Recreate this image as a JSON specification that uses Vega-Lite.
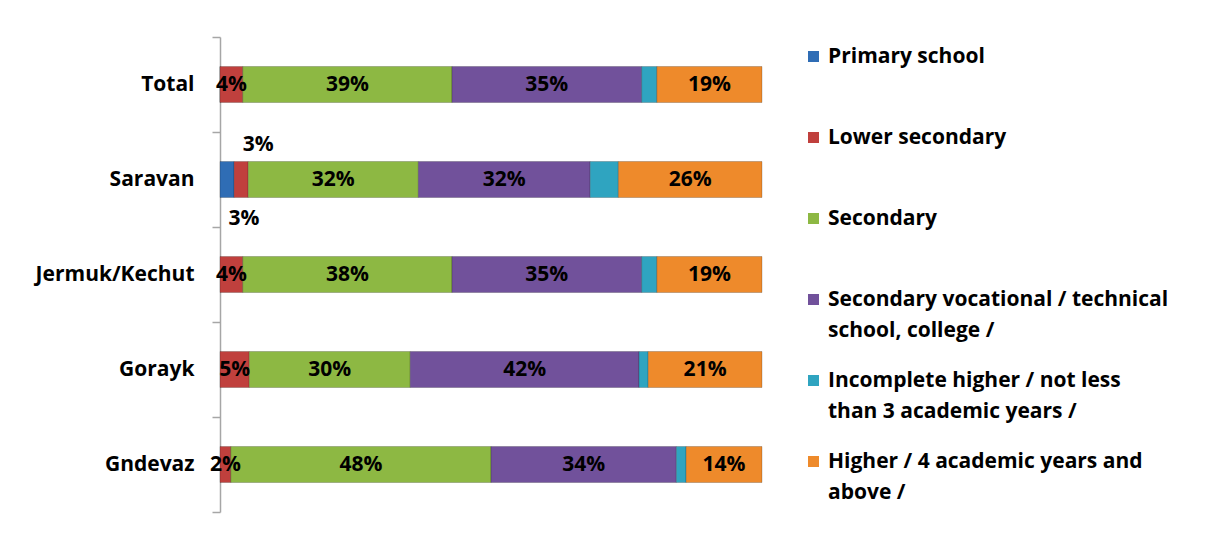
{
  "$schema": "https://vega.github.io/schema/vega-lite/v6.json",
  "width": 542,
  "height": 475,
  "autosize": {"type": "none"},
  "padding": {"left": 220, "top": 37, "right": 447, "bottom": 24},
  "background": "white",
  "config": {"view": {"stroke": null}, "font": "Open Sans", "style": {"guide-label": {"lineHeight": 31}}},
  "data": {"values": [
    {"place": "Total", "level": "Primary school", "k": 1, "value": 0, "label": ""},
    {"place": "Total", "level": "Lower secondary", "k": 2, "value": 4.2, "label": "4%"},
    {"place": "Total", "level": "Secondary", "k": 3, "value": 38.6, "label": "39%"},
    {"place": "Total", "level": "Secondary vocational / technical school,  college /", "k": 4, "value": 35.0, "label": "35%"},
    {"place": "Total", "level": "Incomplete higher / not less than 3 academic years /", "k": 5, "value": 2.8, "label": ""},
    {"place": "Total", "level": "Higher  / 4 academic years and above /", "k": 6, "value": 19.4, "label": "19%"},
    {"place": "Saravan", "level": "Primary school", "k": 1, "value": 2.6, "label": "3%"},
    {"place": "Saravan", "level": "Lower secondary", "k": 2, "value": 2.6, "label": "3%"},
    {"place": "Saravan", "level": "Secondary", "k": 3, "value": 31.4, "label": "32%"},
    {"place": "Saravan", "level": "Secondary vocational / technical school,  college /", "k": 4, "value": 31.7, "label": "32%"},
    {"place": "Saravan", "level": "Incomplete higher / not less than 3 academic years /", "k": 5, "value": 5.2, "label": ""},
    {"place": "Saravan", "level": "Higher  / 4 academic years and above /", "k": 6, "value": 26.5, "label": "26%"},
    {"place": "Jermuk/Kechut", "level": "Lower secondary", "k": 2, "value": 4.2, "label": "4%"},
    {"place": "Jermuk/Kechut", "level": "Secondary", "k": 3, "value": 38.6, "label": "38%"},
    {"place": "Jermuk/Kechut", "level": "Secondary vocational / technical school,  college /", "k": 4, "value": 35.0, "label": "35%"},
    {"place": "Jermuk/Kechut", "level": "Incomplete higher / not less than 3 academic years /", "k": 5, "value": 2.8, "label": ""},
    {"place": "Jermuk/Kechut", "level": "Higher  / 4 academic years and above /", "k": 6, "value": 19.4, "label": "19%"},
    {"place": "Gorayk", "level": "Lower secondary", "k": 2, "value": 5.4, "label": "5%"},
    {"place": "Gorayk", "level": "Secondary", "k": 3, "value": 29.7, "label": "30%"},
    {"place": "Gorayk", "level": "Secondary vocational / technical school,  college /", "k": 4, "value": 42.2, "label": "42%"},
    {"place": "Gorayk", "level": "Incomplete higher / not less than 3 academic years /", "k": 5, "value": 1.7, "label": ""},
    {"place": "Gorayk", "level": "Higher  / 4 academic years and above /", "k": 6, "value": 21.0, "label": "21%"},
    {"place": "Gndevaz", "level": "Lower secondary", "k": 2, "value": 2.0, "label": "2%"},
    {"place": "Gndevaz", "level": "Secondary", "k": 3, "value": 48.0, "label": "48%"},
    {"place": "Gndevaz", "level": "Secondary vocational / technical school,  college /", "k": 4, "value": 34.2, "label": "34%"},
    {"place": "Gndevaz", "level": "Incomplete higher / not less than 3 academic years /", "k": 5, "value": 1.8, "label": ""},
    {"place": "Gndevaz", "level": "Higher  / 4 academic years and above /", "k": 6, "value": 14.0, "label": "14%"}
  ]},
  "transform": [
    {"stack": "value", "groupby": ["place"], "sort": [{"field": "k", "order": "ascending"}], "as": ["v0", "v1"]}
  ],
  "encoding": {
    "y": {
      "field": "place", "type": "nominal",
      "sort": ["Total", "Saravan", "Jermuk/Kechut", "Gorayk", "Gndevaz"],
      "scale": {"paddingInner": 0, "paddingOuter": 0},
      "axis": {
        "title": null, "labelFontSize": 21, "labelFontWeight": "bold", "labelColor": "black",
        "labelPadding": 18, "tickBand": "extent", "tickSize": 8,
        "domainColor": "#A6A6A6", "tickColor": "#A6A6A6", "domainWidth": 1.5, "tickWidth": 1.5
      }
    }
  },
  "layer": [
    {
      "mark": {"type": "bar", "size": 36, "stroke": "#00000033", "strokeWidth": 1},
      "encoding": {
        "x": {"field": "v0", "type": "quantitative", "scale": {"domain": [0, 100], "nice": false}, "axis": null},
        "x2": {"field": "v1"},
        "color": {
          "field": "level", "type": "nominal",
          "scale": {
            "domain": ["Primary school", "Lower secondary", "Secondary", "Secondary vocational / technical school,  college /", "Incomplete higher / not less than 3 academic years /", "Higher  / 4 academic years and above /"],
            "range": ["#2F6DB5", "#C0403D", "#8DB843", "#71519B", "#2FA4C0", "#EE8A2B"]
          },
          "legend": {
            "title": null, "orient": "none", "legendX": 583, "legendY": 9, "padding": 0,
            "symbolType": "square", "symbolSize": 121, "symbolStrokeWidth": 0,
            "labelFontSize": 21, "labelFontWeight": "bold", "labelColor": "black",
            "labelOffset": 4, "labelLimit": 440, "gridAlign": "all", "rowPadding": 28,
            "labelExpr": "datum.value == 'Secondary vocational / technical school,  college /' ? ['Secondary vocational / technical', 'school,  college /'] : datum.value == 'Incomplete higher / not less than 3 academic years /' ? ['Incomplete higher / not less', 'than 3 academic years /'] : datum.value == 'Higher  / 4 academic years and above /' ? ['Higher  / 4 academic years and', 'above /'] : datum.label"
          }
        }
      }
    },
    {
      "transform": [
        {"filter": "datum.label != '' && !(datum.place == 'Saravan' && datum.k <= 2)"},
        {"fold": ["v0", "v1"], "as": ["edge", "pos"]},
        {"aggregate": [{"op": "mean", "field": "pos", "as": "mid"}], "groupby": ["place", "k", "label"]}
      ],
      "mark": {"type": "text", "fontWeight": "bold", "fontSize": 21, "color": "black"},
      "encoding": {"x": {"field": "mid", "type": "quantitative"}, "text": {"field": "label"}}
    },
    {
      "transform": [
        {"filter": "datum.place == 'Saravan' && datum.k == 2"},
        {"fold": ["v0", "v1"], "as": ["edge", "pos"]},
        {"aggregate": [{"op": "mean", "field": "pos", "as": "mid"}], "groupby": ["place", "k", "label"]}
      ],
      "mark": {"type": "text", "fontWeight": "bold", "fontSize": 21, "color": "black", "dx": 17, "dy": -35},
      "encoding": {"x": {"field": "mid", "type": "quantitative"}, "text": {"field": "label"}}
    },
    {
      "transform": [
        {"filter": "datum.place == 'Saravan' && datum.k == 1"},
        {"fold": ["v0", "v1"], "as": ["edge", "pos"]},
        {"aggregate": [{"op": "mean", "field": "pos", "as": "mid"}], "groupby": ["place", "k", "label"]}
      ],
      "mark": {"type": "text", "fontWeight": "bold", "fontSize": 21, "color": "black", "dx": 17, "dy": 39},
      "encoding": {"x": {"field": "mid", "type": "quantitative"}, "text": {"field": "label"}}
    }
  ]
}
